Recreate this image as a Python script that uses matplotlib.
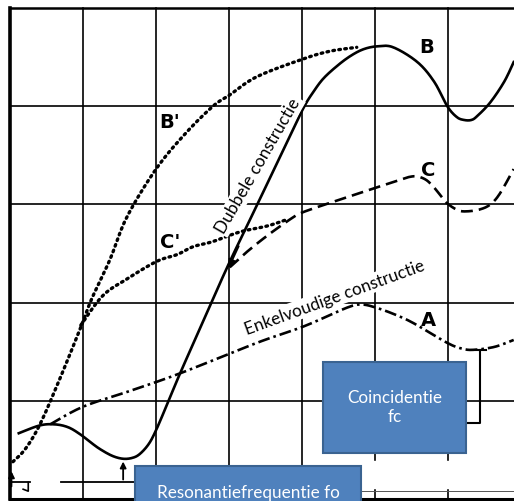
import matplotlib
matplotlib.use('Agg')
import matplotlib.pyplot as plt
import numpy as np
from matplotlib.patches import Rectangle

# Curves, in grid units (one grid cell = 1)
b_x = [0.12, 0.41, 0.62, 0.80, 0.96, 1.10, 1.23, 1.40, 1.55, 1.68, 1.78, 1.90, 2.00, 2.15, 2.33,
       2.67, 3.00, 3.42, 3.90, 4.04, 4.15, 4.29, 4.48, 4.66, 4.84, 5.03, 5.25, 5.58, 5.81, 5.99, 6.12,
       6.22, 6.32, 6.40, 6.58, 6.77, 6.90]
b_y = [0.67, 0.75, 0.76, 0.73, 0.66, 0.58, 0.51, 0.44, 0.41, 0.42, 0.46, 0.56, 0.70, 0.96, 1.28,
       1.85, 2.40, 3.05, 3.80, 4.01, 4.14, 4.28, 4.41, 4.51, 4.58, 4.61, 4.60, 4.45, 4.25, 4.00, 3.89,
       3.86, 3.86, 3.90, 4.04, 4.25, 4.45]

bp_x = [0.04, 0.21, 0.41, 0.68, 0.97, 1.12, 1.37, 1.60, 2.00, 2.40, 2.78, 3.00, 3.38, 4.01, 4.38, 4.75]
bp_y = [0.38, 0.51, 0.76, 1.22, 1.75, 2.04, 2.44, 2.87, 3.36, 3.72, 4.00, 4.11, 4.30, 4.48, 4.56, 4.60]

cp_x = [0.97, 1.27, 1.60, 2.01, 2.29, 2.51, 2.77, 3.15, 3.52, 3.77]
cp_y = [1.77, 2.07, 2.24, 2.42, 2.49, 2.57, 2.62, 2.72, 2.78, 2.84]

c_x = [3.01, 3.25, 3.52, 3.84, 4.01, 4.52, 5.01, 5.34, 5.47, 5.58, 5.70, 5.80, 5.90, 5.99, 6.14,
       6.27, 6.44, 6.58, 6.71, 6.90]
c_y = [2.36, 2.52, 2.68, 2.85, 2.92, 3.05, 3.17, 3.25, 3.28, 3.285, 3.25, 3.18, 3.09, 3.01, 2.94,
       2.93, 2.95, 3.00, 3.11, 3.36]

a_x = [0.55, 1.00, 1.64, 2.33, 3.38, 4.03, 4.62, 4.82, 5.01, 5.27, 5.53, 5.99, 6.20, 6.36, 6.64, 6.90]
a_y = [0.76, 0.94, 1.10, 1.28, 1.59, 1.76, 1.95, 1.98, 1.95, 1.88, 1.79, 1.59, 1.53, 1.52, 1.55, 1.62]

curve_labels = ['B', "B'", 'C', "C'", 'A']
label_x = [5.71, 2.19, 5.73, 2.20, 5.73]
label_y = [4.61, 3.84, 3.36, 2.62, 1.83]


def smooth(xs, ys, n=12):
    # Catmull-Rom through the read points, only for a smooth drawn line
    p = np.column_stack([xs, ys])
    p = np.vstack([p[0], p, p[-1]])
    out = []
    t = np.linspace(0, 1, n, endpoint=False)[:, None]
    for i in range(1, len(p) - 2):
        p0, p1, p2, p3 = p[i - 1], p[i], p[i + 1], p[i + 2]
        out.append(0.5 * (2 * p1 + (-p0 + p2) * t + (2 * p0 - 5 * p1 + 4 * p2 - p3) * t ** 2
                          + (-p0 + 3 * p1 - 3 * p2 + p3) * t ** 3))
    out.append(p[-2][None, :])
    out = np.vstack(out)
    return out[:, 0], out[:, 1]


fig = plt.figure(figsize=(5.14, 5.02), dpi=100)
ax = fig.add_axes([0, 0, 1, 1])
ax.set_xlim(-0.137, 6.904)
ax.set_ylim(-0.020, 5.092)
ax.axis('off')

# grid / frame
for gx in range(1, 7):
    ax.plot([gx, gx], [0, 5], color='black', lw=1.2, zorder=1)
for gy in range(1, 5):
    ax.plot([0, 6.904], [gy, gy], color='black', lw=1.2, zorder=1)
ax.plot([0, 6.904], [5, 5], color='black', lw=1.8, zorder=1)
ax.plot([0, 6.904], [0, 0], color='black', lw=2.2, zorder=1)
ax.plot([0, 0], [0, 5], color='black', lw=2.6, zorder=1)

# erased strip at the lower right
ax.add_patch(Rectangle((4.81, 0.11), 2.2, 0.28, color='white', zorder=2))
ax.plot([4.81, 6.904], [0.08, 0.08], color='#555555', lw=0.7, zorder=2)

# curves
ax.plot(*smooth(b_x, b_y), color='black', lw=1.9, zorder=3, solid_joinstyle='round')
ax.plot(*smooth(bp_x, bp_y), color='black', lw=2.4, ls=(0, (0.5, 1.3)), dash_capstyle='round', zorder=3)
ax.plot(*smooth(cp_x, cp_y), color='black', lw=2.4, ls=(0, (0.5, 1.3)), dash_capstyle='round', zorder=3)
ax.plot(*smooth(c_x, c_y), color='black', lw=1.9, ls=(0, (4.5, 2.3)), zorder=3)
ax.plot(*smooth(a_x, a_y), color='black', lw=1.9, ls=(0, (4.5, 1.5, 1.0, 1.5)), zorder=3)

# arrow on the double construction line
ax.annotate('', xy=(2.98, 2.33), xytext=(3.15, 2.60),
            arrowprops=dict(arrowstyle='-|>', color='black', lw=1.2, mutation_scale=12), zorder=4)

# resonance / coincidence markers
ax.annotate('', xy=(1.55, 0.41), xytext=(1.55, 0.17),
            arrowprops=dict(arrowstyle='-|>', color='black', lw=1.3, mutation_scale=9), zorder=3)
ax.plot([0.70, 1.75], [0.17, 0.17], color='black', lw=1.3, zorder=3)
ax.annotate('', xy=(0.02, 0.31), xytext=(0.02, 0.10),
            arrowprops=dict(arrowstyle='-|>', color='black', lw=1.3, mutation_scale=9), zorder=3)
ax.plot([0.0, 0.27], [0.17, 0.17], color='black', lw=1.3, zorder=3)
ax.plot([0.25, 0.25, 0.18], [0.17, 0.08, 0.10], color='black', lw=1.2, zorder=3)
ax.plot([6.44, 6.44, 6.25], [1.52, 0.77, 0.77], color='black', lw=1.5, zorder=3)
ax.plot([6.38, 6.52], [1.52, 1.52], color='black', lw=1.5, zorder=3)

for t, x, y in zip(curve_labels, label_x, label_y):
    ax.text(x, y, t, ha='center', va='center', fontsize=14, fontweight='bold',
            family=['Liberation Sans Narrow', 'DejaVu Sans'], zorder=5)

txt_font = ['Lato', 'DejaVu Sans']
ax.text(3.40, 3.40, 'Dubbele constructie', rotation=60, rotation_mode='anchor',
        ha='center', va='center', fontsize=12.3, family=txt_font, zorder=6,
        bbox=dict(facecolor='white', edgecolor='none', pad=1.2))
ax.text(4.45, 2.06, 'Enkelvoudige constructie', rotation=20, rotation_mode='anchor',
        ha='center', va='center', fontsize=12.3, family=txt_font, zorder=6,
        bbox=dict(facecolor='white', edgecolor='none', pad=1.2))

# blue callout boxes
box_fc = '#4F81BD'
box_ec = '#3A6391'
ax.add_patch(Rectangle((4.29, 0.47), 1.96, 0.93, facecolor=box_fc, edgecolor=box_ec, lw=1.5, zorder=7))
ax.text(5.27, 0.94, 'Coincidentie\nfc', ha='center', va='center', color='white',
        fontsize=12.3, family=txt_font, linespacing=1.25, zorder=8)
ax.add_patch(Rectangle((1.71, -0.30), 3.10, 0.64, facecolor=box_fc, edgecolor=box_ec, lw=1.5, zorder=7))
ax.text(3.26, 0.07, 'Resonantiefrequentie fo', ha='center', va='center', color='white',
        fontsize=12.3, family=txt_font, zorder=8)

plt.savefig('out.png', dpi=100)
